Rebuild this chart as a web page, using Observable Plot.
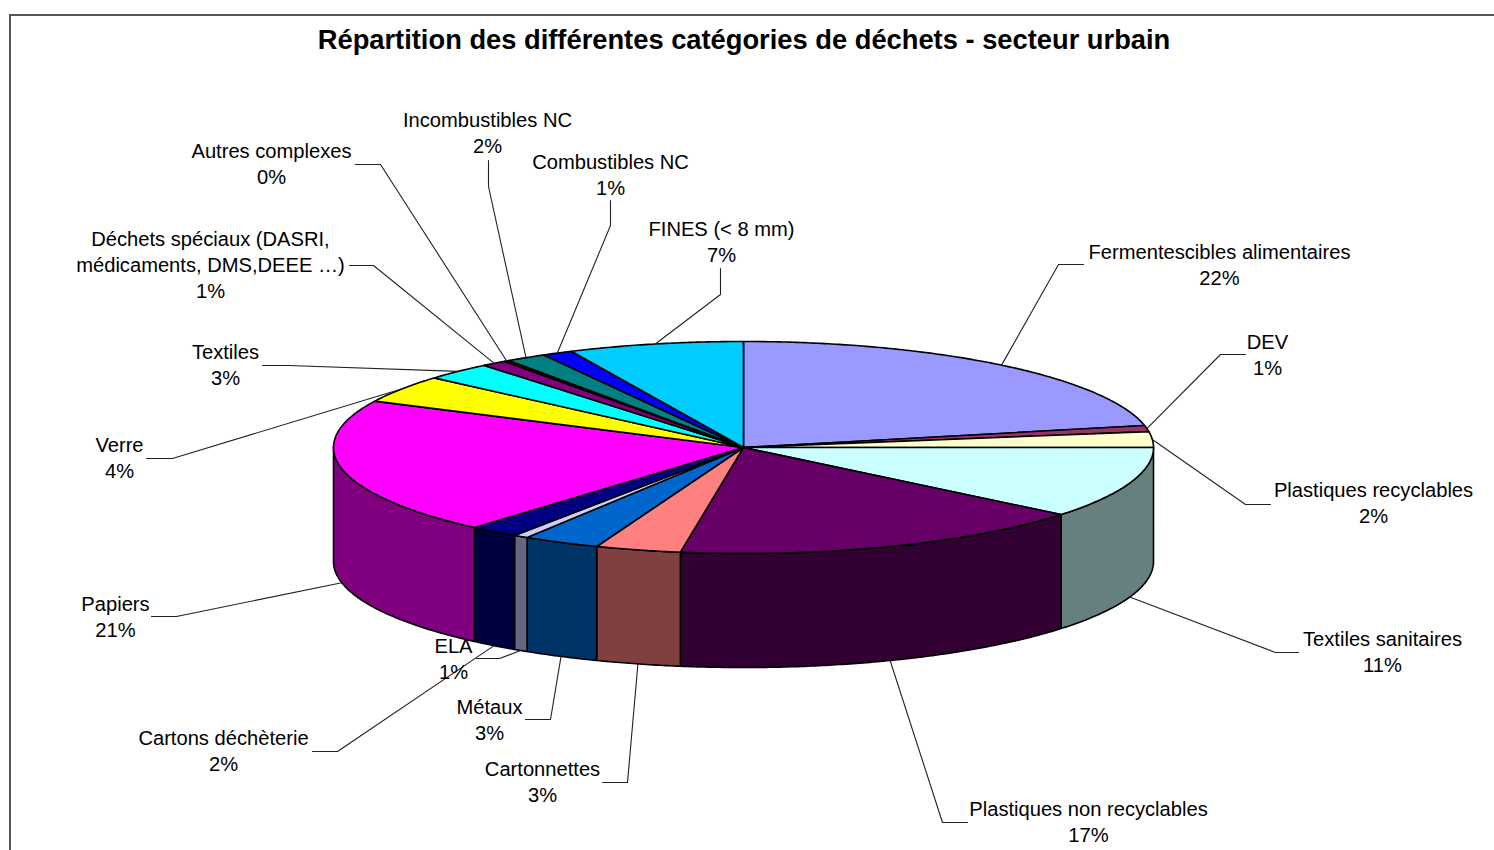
<!DOCTYPE html>
<html lang="fr"><head><meta charset="utf-8">
<script src="https://cdn.jsdelivr.net/npm/d3@7"></script>
<script src="https://cdn.jsdelivr.net/npm/@observablehq/plot@0.6"></script>
<style>
html,body{margin:0;padding:0;background:#fff;overflow:hidden;height:850px}
body{position:relative;width:1494px;font-family:"Liberation Sans",Arial,sans-serif}
#frame{position:absolute;left:9px;top:14px;right:0;bottom:0;border-left:2px solid #555;border-top:2px solid #555;pointer-events:none}
h1{margin:0;height:60px;padding:25px 6px 0 0;box-sizing:border-box;line-height:30px;text-align:center;font-size:27.3px;font-weight:700;color:#000;white-space:nowrap;position:relative}
#chart{position:relative}
#chart svg{display:block}
</style></head><body>
<div id="frame"></div>
<h1>Répartition des différentes catégories de déchets - secteur urbain</h1>
<div id="chart"></div>
<script>
// Data
const categories = ["Fermentescibles alimentaires","DEV","Plastiques recyclables","Textiles sanitaires","Plastiques non recyclables","Cartonnettes","Métaux","ELA","Cartons déchèterie","Papiers","Verre","Textiles","Déchets spéciaux (DASRI,\nmédicaments, DMS,DEEE …)","Autres complexes","Incombustibles NC","Combustibles NC","FINES (< 8 mm)"];
const shares = [21.67,0.93,2.4,10.9,16.56,3.37,3.02,0.58,1.96,20.81,4.2,2.7,1.0,0.2,1.6,1.2,6.9];
const percentLabels = ["22%","1%","2%","11%","17%","3%","3%","1%","2%","21%","4%","3%","1%","0%","2%","1%","7%"];
const topColors = ["#9999ff","#993366","#ffffcc","#ccffff","#660066","#ff8080","#0066cc","#ccccff","#000080","#ff00ff","#ffff00","#00ffff","#800080","#800000","#008080","#0000ff","#00ccff"];

// Layout
const cx = 743, cy = 447, rx = 410, ry = 106, depth = 114;
const labelX = [1219,1267,1373,1382,1088,542,489,453,223,115,119,225,210,271,487,610,721];
const labelY = [263,353,501,650,820,780,718,657,749,615,456,363,263,162,131,173,240];
const elbowX = [1058,1220,1245,1275,942,627,550,499,337,176,172,288,373,380,488,610,720];
const elbowY = [264,354,504,652,822,782,719,658,751,616,458,365,265,164,186,225,294];
const endX   = [1083,1245,1270,1298,967,602,525,476,312,151,146,262,349,355,488,610,720];
const endY   = [264,354,504,652,822,782,719,658,751,616,458,365,265,164,160,200,268];

// Geometry derived from the values: clockwise from 12 o'clock, in percent
const total = d3.sum(shares);
const bounds = d3.cumsum(shares, v => v / total * 2 * Math.PI);
const ex = a => cx + rx * Math.sin(a);
const ey = a => cy - ry * Math.cos(a);
const arc = (a0, a1) => {
  const n = Math.max(2, Math.ceil((a1 - a0) / (Math.PI / 360)));
  return d3.range(n + 1).map(i => a0 + (a1 - a0) * i / n);
};
const halfColor = c => { const r = d3.rgb(c); return d3.rgb(r.r / 2, r.g / 2, r.b / 2).formatHex(); };

const slices = shares.map((v, i) => ({i, a0: i ? bounds[i - 1] : 0, a1: bounds[i], mid: (i ? bounds[i - 1] + bounds[i] : bounds[i]) / 2}));

const tops = slices.flatMap(s => {
  const pts = [{x: cx, y: cy}, ...arc(s.a0, s.a1).map(a => ({x: ex(a), y: ey(a)})), {x: cx, y: cy}];
  return pts.map(p => ({...p, id: s.i, color: topColors[s.i]}));
});
const sides = slices.flatMap(s => {
  const a0 = Math.max(s.a0, Math.PI / 2), a1 = Math.min(s.a1, 3 * Math.PI / 2);
  if (a1 <= a0) return [];
  const as = arc(a0, a1);
  const pts = [...as.map(a => ({x: ex(a), y: ey(a)})), ...as.slice().reverse().map(a => ({x: ex(a), y: ey(a) + depth}))];
  pts.push(pts[0]);
  return pts.map(p => ({...p, id: s.i, color: halfColor(topColors[s.i])}));
});
const leaders = slices.flatMap(s => {
  const front = Math.cos(s.mid) < 0;
  return [
    {x: ex(s.mid), y: ey(s.mid) + (front ? depth : 0), id: s.i},
    {x: elbowX[s.i], y: elbowY[s.i], id: s.i},
    {x: endX[s.i], y: endY[s.i], id: s.i}
  ];
});
const labels = categories.map((c, i) => ({text: c + "\n" + percentLabels[i], x: labelX[i], y: labelY[i]}));

const chart = Plot.plot({
  width: 1494, height: 790,
  marginTop: 0, marginRight: 0, marginBottom: 0, marginLeft: 0,
  style: {background: "transparent", overflow: "visible"},
  x: {domain: [0, 1494], range: [0, 1494], axis: null},
  y: {domain: [60, 850], range: [0, 790], axis: null},
  marks: [
    Plot.line(sides, {x: "x", y: "y", z: "id", fill: "color", stroke: "#000", strokeWidth: 1.6, curve: "linear"}),
    Plot.line(tops, {x: "x", y: "y", z: "id", fill: "color", stroke: "#000", strokeWidth: 1.6, curve: "linear"}),
    Plot.line(leaders, {x: "x", y: "y", z: "id", stroke: "#222", strokeWidth: 1.1, curve: "linear"}),
    Plot.text(labels, {x: "x", y: "y", text: "text", fontSize: 20.15, lineHeight: 1.29, fill: "#000", fontFamily: "Liberation Sans, Arial, sans-serif", textAnchor: "middle", lineAnchor: "middle"})
  ]
});
document.getElementById("chart").appendChild(chart);
</script>
</body></html>
